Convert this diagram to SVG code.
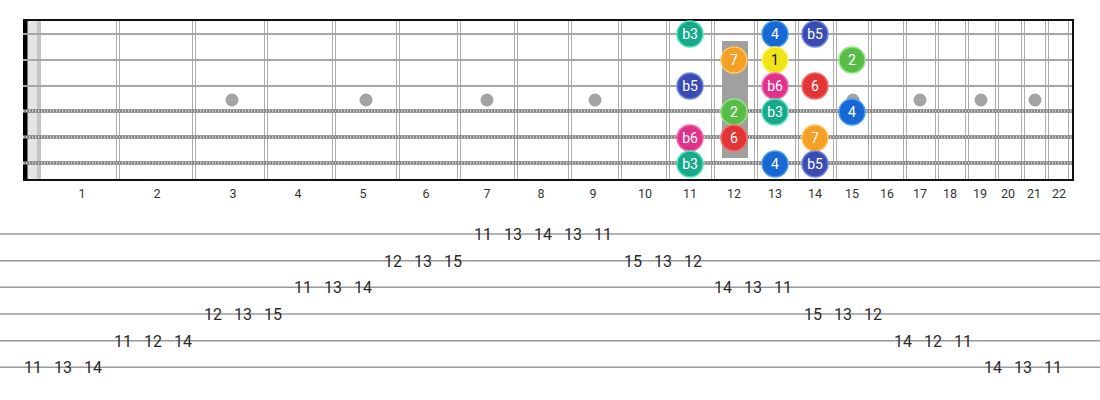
<svg xmlns="http://www.w3.org/2000/svg" width="1100" height="400" viewBox="0 0 1100 400">
<style>
.fret{stroke:#adadad;stroke-width:1;fill:none}
.plain{stroke:#a6a6a6;stroke-width:2.2}
.woundA{stroke:#7d7d7d;stroke-width:3.6}
.woundB{stroke:#e6e6e6;stroke-width:1.6;stroke-dasharray:1.3 1.7}
.inlay{fill:#a3a3a3}
.fnum{font-family:Roboto,"Liberation Sans",sans-serif;font-size:12.5px;fill:#333;text-anchor:middle}
.tabline{stroke:#999;stroke-width:1.6}
.tab{font-family:Roboto,"Liberation Sans",sans-serif;font-size:16px;fill:#2a2a2a;text-anchor:middle}
.dl{font-family:Roboto,"Liberation Sans",sans-serif;font-size:14px;fill:#fff;text-anchor:middle}
.dk{fill:#111}
.c-b3{fill:#17a98a;stroke:#4fe3b6;stroke-width:1.5}
.c-4{fill:#1768d4;stroke:#4a9cf0;stroke-width:1.5}
.c-b5{fill:#3a4cb2;stroke:#6f86e6;stroke-width:1.5}
.c-7{fill:#f5a025;stroke:#ffc766;stroke-width:1.5}
.c-1{fill:#f2e41a;stroke:#fff36b;stroke-width:1.5}
.c-2{fill:#58bd47;stroke:#8ce77c;stroke-width:1.5}
.c-b6{fill:#e03288;stroke:#f56cb0;stroke-width:1.5}
.c-6{fill:#e23636;stroke:#f76b6b;stroke-width:1.5}
</style>
<rect width="1100" height="400" fill="#fff"/>
<g id="fretboard">
  <rect x="27" y="20" width="10" height="160" fill="#e4e4e4"/>
  <rect x="37" y="20" width="4" height="160" fill="#c4c4c4"/>
  <g id="frets">
    <path class="fret" d="M116.5 20V180M119.5 20V180M192.5 20V180M195.5 20V180M264.5 20V180M267.5 20V180M332.5 20V180M335.5 20V180M396.5 20V180M399.5 20V180M457.5 20V180M460.5 20V180M514.5 20V180M517.5 20V180M568.5 20V180M571.5 20V180M618.5 20V180M621.5 20V180M666.5 20V180M669.5 20V180M711.5 20V180M714.5 20V180M754.5 20V180M757.5 20V180M795.5 20V180M798.5 20V180M833.5 20V180M836.5 20V180M868.5 20V180M871.5 20V180M903.5 20V180M906.5 20V180M935.5 20V180M938.5 20V180M965.5 20V180M968.5 20V180M995.5 20V180M998.5 20V180M1021.5 20V180M1024.5 20V180M1045.5 20V180M1048.5 20V180M1068.5 20V180"/>
  </g>
  <g id="inlays">
    <circle class="inlay" cx="232" cy="100" r="6.5"/>
    <circle class="inlay" cx="366" cy="100" r="6.5"/>
    <circle class="inlay" cx="487" cy="100" r="6.5"/>
    <circle class="inlay" cx="595" cy="100" r="6.5"/>
    <circle class="inlay" cx="853" cy="100" r="6.5"/>
    <circle class="inlay" cx="920" cy="100" r="6.5"/>
    <circle class="inlay" cx="981" cy="100" r="6.5"/>
    <circle class="inlay" cx="1035" cy="100" r="6.5"/>
  </g>
  <rect x="23" y="20" width="4.5" height="160" fill="#000"/>
  <g id="strings">
    <line class="plain" x1="23" y1="34" x2="1073" y2="34"/>
    <line class="plain" x1="23" y1="60" x2="1073" y2="60"/>
    <line class="plain" x1="23" y1="86" x2="1073" y2="86"/>
    <line class="woundA" x1="23" y1="111" x2="1073" y2="111"/>
    <line class="woundB" x1="23" y1="111" x2="1073" y2="111"/>
    <line class="woundA" x1="23" y1="137" x2="1073" y2="137"/>
    <line class="woundB" x1="23" y1="137" x2="1073" y2="137"/>
    <line class="woundA" x1="23" y1="163" x2="1073" y2="163"/>
    <line class="woundB" x1="23" y1="163" x2="1073" y2="163"/>
  </g>
  <rect x="722" y="41" width="26" height="117" fill="#a0a0a0"/>
  <path d="M23 20H1073V180H23" fill="none" stroke="#111" stroke-width="2"/>
</g>
<g id="fret-numbers">
  <text class="fnum" x="82" y="197.5">1</text>
  <text class="fnum" x="157" y="197.5">2</text>
  <text class="fnum" x="233" y="197.5">3</text>
  <text class="fnum" x="298" y="197.5">4</text>
  <text class="fnum" x="363" y="197.5">5</text>
  <text class="fnum" x="426" y="197.5">6</text>
  <text class="fnum" x="487" y="197.5">7</text>
  <text class="fnum" x="541" y="197.5">8</text>
  <text class="fnum" x="593" y="197.5">9</text>
  <text class="fnum" x="645" y="197.5">10</text>
  <text class="fnum" x="690" y="197.5">11</text>
  <text class="fnum" x="734" y="197.5">12</text>
  <text class="fnum" x="775" y="197.5">13</text>
  <text class="fnum" x="815" y="197.5">14</text>
  <text class="fnum" x="852" y="197.5">15</text>
  <text class="fnum" x="887" y="197.5">16</text>
  <text class="fnum" x="920" y="197.5">17</text>
  <text class="fnum" x="950" y="197.5">18</text>
  <text class="fnum" x="980" y="197.5">19</text>
  <text class="fnum" x="1008" y="197.5">20</text>
  <text class="fnum" x="1034" y="197.5">21</text>
  <text class="fnum" x="1059" y="197.5">22</text>
</g>
<g id="notes">
  <g id="n-s1-f11"><circle class="c-b3" cx="690" cy="34" r="13"/><text class="dl" x="690" y="39">b3</text></g>
  <g id="n-s1-f13"><circle class="c-4" cx="775" cy="34" r="13"/><text class="dl" x="775" y="39">4</text></g>
  <g id="n-s1-f14"><circle class="c-b5" cx="815" cy="34" r="13"/><text class="dl" x="815" y="39">b5</text></g>
  <g id="n-s2-f12"><circle class="c-7" cx="734" cy="60" r="13"/><text class="dl" x="734" y="65">7</text></g>
  <g id="n-s2-f13"><circle class="c-1" cx="775" cy="60" r="13"/><text class="dl dk" x="775" y="65">1</text></g>
  <g id="n-s2-f15"><circle class="c-2" cx="852" cy="60" r="13"/><text class="dl" x="852" y="65">2</text></g>
  <g id="n-s3-f11"><circle class="c-b5" cx="690" cy="86" r="13"/><text class="dl" x="690" y="91">b5</text></g>
  <g id="n-s3-f13"><circle class="c-b6" cx="775" cy="86" r="13"/><text class="dl" x="775" y="91">b6</text></g>
  <g id="n-s3-f14"><circle class="c-6" cx="815" cy="86" r="13"/><text class="dl" x="815" y="91">6</text></g>
  <g id="n-s4-f12"><circle class="c-2" cx="734" cy="112" r="13"/><text class="dl" x="734" y="117">2</text></g>
  <g id="n-s4-f13"><circle class="c-b3" cx="775" cy="112" r="13"/><text class="dl" x="775" y="117">b3</text></g>
  <g id="n-s4-f15"><circle class="c-4" cx="852" cy="112" r="13"/><text class="dl" x="852" y="117">4</text></g>
  <g id="n-s5-f11"><circle class="c-b6" cx="690" cy="138" r="13"/><text class="dl" x="690" y="143">b6</text></g>
  <g id="n-s5-f12"><circle class="c-6" cx="734" cy="138" r="13"/><text class="dl" x="734" y="143">6</text></g>
  <g id="n-s5-f14"><circle class="c-7" cx="815" cy="138" r="13"/><text class="dl" x="815" y="143">7</text></g>
  <g id="n-s6-f11"><circle class="c-b3" cx="690" cy="164" r="13"/><text class="dl" x="690" y="169">b3</text></g>
  <g id="n-s6-f13"><circle class="c-4" cx="775" cy="164" r="13"/><text class="dl" x="775" y="169">4</text></g>
  <g id="n-s6-f14"><circle class="c-b5" cx="815" cy="164" r="13"/><text class="dl" x="815" y="169">b5</text></g>
</g>
<g id="tab">
  <g id="tab-lines">
    <line class="tabline" x1="0" y1="234" x2="1100" y2="234"/>
    <line class="tabline" x1="0" y1="260.7" x2="1100" y2="260.7"/>
    <line class="tabline" x1="0" y1="287.3" x2="1100" y2="287.3"/>
    <line class="tabline" x1="0" y1="314" x2="1100" y2="314"/>
    <line class="tabline" x1="0" y1="340.7" x2="1100" y2="340.7"/>
    <line class="tabline" x1="0" y1="367.3" x2="1100" y2="367.3"/>
  </g>
  <g id="tab-notes">
    <text class="tab" x="483" y="240">11</text><text class="tab" x="513" y="240">13</text><text class="tab" x="543" y="240">14</text><text class="tab" x="573" y="240">13</text><text class="tab" x="603" y="240">11</text>
    <text class="tab" x="393" y="266.7">12</text><text class="tab" x="423" y="266.7">13</text><text class="tab" x="453" y="266.7">15</text><text class="tab" x="633" y="266.7">15</text><text class="tab" x="663" y="266.7">13</text><text class="tab" x="693" y="266.7">12</text>
    <text class="tab" x="303" y="293.3">11</text><text class="tab" x="333" y="293.3">13</text><text class="tab" x="363" y="293.3">14</text><text class="tab" x="723" y="293.3">14</text><text class="tab" x="753" y="293.3">13</text><text class="tab" x="783" y="293.3">11</text>
    <text class="tab" x="213" y="320">12</text><text class="tab" x="243" y="320">13</text><text class="tab" x="273" y="320">15</text><text class="tab" x="813" y="320">15</text><text class="tab" x="843" y="320">13</text><text class="tab" x="873" y="320">12</text>
    <text class="tab" x="123" y="346.7">11</text><text class="tab" x="153" y="346.7">12</text><text class="tab" x="183" y="346.7">14</text><text class="tab" x="903" y="346.7">14</text><text class="tab" x="933" y="346.7">12</text><text class="tab" x="963" y="346.7">11</text>
    <text class="tab" x="33" y="373.3">11</text><text class="tab" x="63" y="373.3">13</text><text class="tab" x="93" y="373.3">14</text><text class="tab" x="993" y="373.3">14</text><text class="tab" x="1023" y="373.3">13</text><text class="tab" x="1053" y="373.3">11</text>
  </g>
</g>
</svg>
